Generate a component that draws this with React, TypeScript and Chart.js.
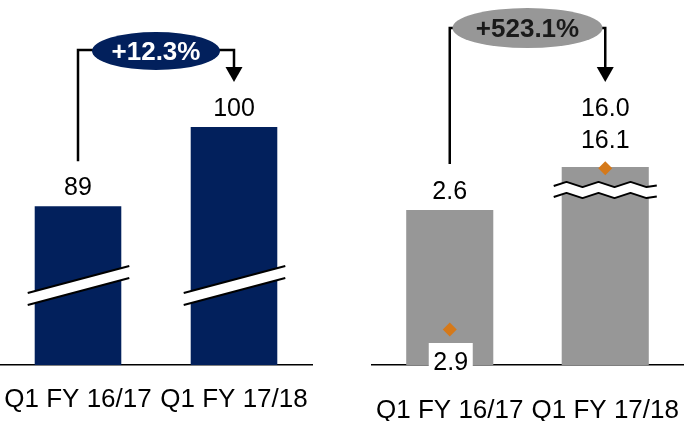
import { useEffect, useRef } from "react";
import { Chart, registerables } from "chart.js";

Chart.register(...registerables);

const FONT = '"Liberation Sans", Arial, Helvetica, sans-serif';

const categories = ["Q1 FY 16/17", "Q1 FY 17/18"];

// Left panel: index values, axis broken below the bars
const indexValues = [89, 100];
const indexChange = "+12.3%";

// Right panel: grey bars plus orange diamond markers
const barValues = [2.6, 16.0];
const markerValues = [2.9, 16.1];
const percentChange = "+523.1%";

const NAVY = "#02205C";
const GREY = "#979797";
const ORANGE = "#D5791A";

const PANEL_W = 344;
const PANEL_H = 421;

function drawBubble(ctx: CanvasRenderingContext2D, cx: number, cy: number, rx: number, ry: number, fill: string, text: string, textColor: string) {
  ctx.save();
  ctx.beginPath();
  ctx.ellipse(cx, cy, rx, ry, 0, 0, Math.PI * 2);
  ctx.fillStyle = fill;
  ctx.fill();
  ctx.fillStyle = textColor;
  ctx.font = `bold 26px ${FONT}`;
  ctx.textAlign = "center";
  ctx.textBaseline = "alphabetic";
  ctx.fillText(text, cx, cy + 9);
  ctx.restore();
}

// Bracket from the first bar up to the bubble line and down with an arrow to the second bar
function drawBracket(ctx: CanvasRenderingContext2D, x1: number, yStart: number, x2: number, yLine: number, yTip: number) {
  ctx.save();
  ctx.strokeStyle = "#000";
  ctx.lineWidth = 2.5;
  ctx.beginPath();
  ctx.moveTo(x1, yStart);
  ctx.lineTo(x1, yLine);
  ctx.lineTo(x2, yLine);
  ctx.lineTo(x2, yTip - 14);
  ctx.stroke();
  ctx.beginPath();
  ctx.moveTo(x2 - 8.5, yTip - 15);
  ctx.lineTo(x2 + 8.5, yTip - 15);
  ctx.lineTo(x2, yTip);
  ctx.closePath();
  ctx.fillStyle = "#000";
  ctx.fill();
  ctx.restore();
}

function valueText(ctx: CanvasRenderingContext2D, text: string, x: number, cy: number) {
  ctx.save();
  ctx.fillStyle = "#000";
  ctx.font = `25px ${FONT}`;
  ctx.textAlign = "center";
  ctx.textBaseline = "alphabetic";
  ctx.fillText(text, x, cy + 9);
  ctx.restore();
}

const indexOverlay = {
  id: "indexOverlay",
  afterDatasetsDraw(chart: any) {
    const ctx: CanvasRenderingContext2D = chart.ctx;
    const bottom = chart.chartArea.bottom;
    const bars = chart.getDatasetMeta(0).data;
    // slanted axis-break marks across each bar
    bars.forEach((b: any) => {
      const l = b.x - b.width / 2 - 7;
      const r = b.x + b.width / 2 + 8;
      const yl = bottom - 72;
      const yr = bottom - 99;
      const gap = 12;
      ctx.save();
      ctx.beginPath();
      ctx.moveTo(l, yl);
      ctx.lineTo(r, yr);
      ctx.lineTo(r, yr + gap);
      ctx.lineTo(l, yl + gap);
      ctx.closePath();
      ctx.fillStyle = "#fff";
      ctx.fill();
      ctx.strokeStyle = "#000";
      ctx.lineWidth = 2;
      ctx.beginPath();
      ctx.moveTo(l, yl);
      ctx.lineTo(r, yr);
      ctx.moveTo(l, yl + gap);
      ctx.lineTo(r, yr + gap);
      ctx.stroke();
      ctx.restore();
    });
  },
  afterDraw(chart: any) {
    const ctx: CanvasRenderingContext2D = chart.ctx;
    const bars = chart.getDatasetMeta(0).data;
    bars.forEach((b: any, i: number) => valueText(ctx, String(indexValues[i]), b.x, b.y - 20));
    const [b1, b2] = bars;
    drawBracket(ctx, b1.x, b1.y - 45, b2.x, 50, 82);
    drawBubble(ctx, (b1.x + b2.x) / 2, 51, 64, 19, NAVY, indexChange, "#fff");
  },
};

function zigzagPoints(x0: number, x1: number, y: number, amp: number, half: number) {
  const pts: [number, number][] = [[x0, y + amp * 0.6]];
  let up = true;
  for (let x = x0 + half * 0.8; x < x1 - 2; x += half) {
    pts.push([x, up ? y - amp : y + amp]);
    up = !up;
  }
  pts.push([x1, y + amp * 0.4]);
  return pts;
}

const valueOverlay = {
  id: "valueOverlay",
  afterDatasetsDraw(chart: any) {
    const ctx: CanvasRenderingContext2D = chart.ctx;
    const bars = chart.getDatasetMeta(1).data;
    const b = bars[1];
    // wavy break through the truncated bar
    const x0 = b.x - b.width / 2 - 8;
    const x1 = b.x + b.width / 2 + 8;
    const y1 = chart.chartArea.top + 17.5;
    const gap = 11;
    const upper = zigzagPoints(x0, x1, y1, 2.6, 16);
    const lower = zigzagPoints(x0, x1, y1 + gap, 2.6, 16);
    ctx.save();
    ctx.beginPath();
    upper.forEach(([x, y], i) => (i ? ctx.lineTo(x, y) : ctx.moveTo(x, y)));
    for (let i = lower.length - 1; i >= 0; i--) ctx.lineTo(lower[i][0], lower[i][1]);
    ctx.closePath();
    ctx.fillStyle = "#fff";
    ctx.fill();
    ctx.strokeStyle = "#000";
    ctx.lineWidth = 2;
    ctx.lineJoin = "round";
    [upper, lower].forEach((line) => {
      ctx.beginPath();
      line.forEach(([x, y], i) => (i ? ctx.lineTo(x, y) : ctx.moveTo(x, y)));
      ctx.stroke();
    });
    ctx.restore();
  },
  afterDraw(chart: any) {
    const ctx: CanvasRenderingContext2D = chart.ctx;
    const pts = chart.getDatasetMeta(0).data;
    const bars = chart.getDatasetMeta(1).data;
    const bottom = chart.chartArea.bottom;
    const [b1, b2] = bars;
    const [p1, p2] = pts;

    valueText(ctx, barValues[0].toFixed(1), b1.x, b1.y - 20);
    valueText(ctx, barValues[1].toFixed(1), b2.x, p2.y - 61);
    valueText(ctx, markerValues[1].toFixed(1), b2.x, p2.y - 29);

    // boxed label for the first marker, sitting on the axis line
    ctx.save();
    ctx.fillStyle = "#fff";
    ctx.fillRect(p1.x - 21, bottom - 22, 44, 31);
    ctx.restore();
    valueText(ctx, markerValues[0].toFixed(1), p1.x + 1, bottom - 4);

    drawBracket(ctx, b1.x, b1.y - 46, b2.x, 28, 82);
    drawBubble(ctx, (b1.x + b2.x) / 2, 28, 75, 20, GREY, percentChange, "#1a1a1a");
  },
};

function xAxis(padding: number) {
  return {
    z: 1,
    grid: { display: false, drawTicks: false },
    border: { display: true, color: "#000", width: 1.5 },
    ticks: {
      color: "#000",
      font: { family: FONT, size: 26 },
      padding,
      autoSkip: false,
      maxRotation: 0,
      minRotation: 0,
    },
    afterFit: (s: any) => {
      s.height = 56;
      s.paddingLeft = 0;
      s.paddingRight = 0;
    },
  };
}

function IndexPanel() {
  const ref = useRef<HTMLCanvasElement>(null);
  useEffect(() => {
    const chart = new Chart(ref.current!, {
      type: "bar",
      data: {
        labels: categories,
        datasets: [
          {
            data: indexValues,
            backgroundColor: NAVY,
            barPercentage: 0.555,
            categoryPercentage: 1,
            clip: 0,
          } as any,
        ],
      },
      options: {
        responsive: false,
        animation: false,
        layout: { padding: { top: 127, left: 0, right: 32, bottom: 0 } },
        plugins: { legend: { display: false }, tooltip: { enabled: false } },
        scales: {
          x: xAxis(19) as any,
          y: { display: false, min: 67, max: 100 },
        },
      },
      plugins: [indexOverlay],
    });
    return () => chart.destroy();
  }, []);
  return <canvas ref={ref} width={PANEL_W} height={PANEL_H} style={{ position: "absolute", left: 0, top: 0, width: PANEL_W, height: PANEL_H }} />;
}

const RIGHT_W = 346;

function ValuePanel() {
  const ref = useRef<HTMLCanvasElement>(null);
  useEffect(() => {
    const chart = new Chart(ref.current!, {
      type: "bar",
      data: {
        labels: categories,
        datasets: [
          {
            type: "line",
            data: markerValues,
            yAxisID: "y2",
            showLine: false,
            pointStyle: "rectRot",
            pointRadius: 7,
            pointBackgroundColor: ORANGE,
            pointBorderWidth: 0,
            clip: false,
            order: 0,
          } as any,
          {
            type: "bar",
            data: barValues,
            yAxisID: "y",
            backgroundColor: GREY,
            barPercentage: 0.56,
            categoryPercentage: 1,
            clip: 0,
            order: 1,
          } as any,
        ],
      },
      options: {
        responsive: false,
        animation: false,
        layout: { padding: { top: 167, left: 28, right: 0, bottom: 0 } },
        plugins: { legend: { display: false }, tooltip: { enabled: false } },
        scales: {
          x: xAxis(30) as any,
          y: { display: false, min: 0, max: 3.32 },
          y2: { display: false, min: 0, max: 16.2 },
        },
      },
      plugins: [valueOverlay],
    });
    return () => chart.destroy();
  }, []);
  return <canvas ref={ref} width={RIGHT_W} height={PANEL_H} style={{ position: "absolute", left: PANEL_W, top: 0, width: RIGHT_W, height: PANEL_H }} />;
}

export default function App() {
  return (
    <div style={{ position: "fixed", left: 0, top: 0, width: 688, height: 421, background: "#fff", overflow: "hidden" }}>
      <IndexPanel />
      <ValuePanel />
    </div>
  );
}
